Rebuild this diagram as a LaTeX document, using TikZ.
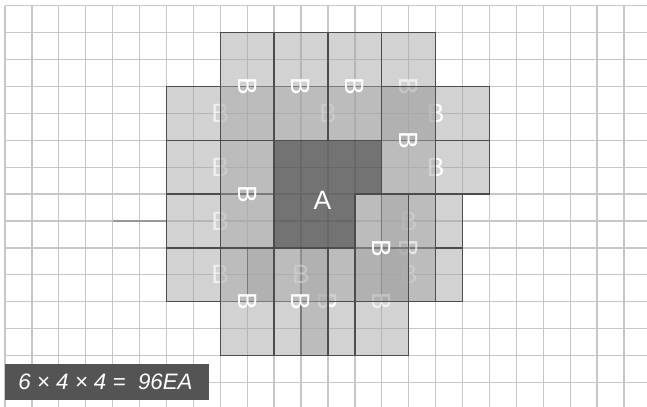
\documentclass[tikz,border=0pt]{standalone}
\usepackage{fontspec}
\setmainfont{Liberation Sans}

\begin{document}
\begin{tikzpicture}[x=0.5cm,y=-0.5cm,
  gridline/.style={black!22,line width=0.7pt},
  piece/.style={fill=black!35,fill opacity=0.5,draw=black!70,line width=0.7pt},
  blockA/.style={fill=black!67,fill opacity=0.82,draw=black!75,line width=0.7pt},
  labh/.style={text=white,inner sep=0pt,font=\fontsize{14}{14}\selectfont},
  labv/.style={labh,rotate=-90},
  faint/.style={text opacity=0.65}]
\path[use as bounding box] (-0.186,-0.212) rectangle (23.855,14.91);
% squared paper
\foreach \c in {0,...,23} \draw[gridline] (\c,0) -- (\c,14.91);
\foreach \r in {0,...,14} \draw[gridline] (0,\r) -- (23.855,\r);
\draw[black!40,line width=0.7pt] (4,8) -- (6,8);
% block A
\draw[blockA] (10,5) -- (14,5) -- (14,7) -- (13,7) -- (13,9) -- (10,9) -- cycle;
\node[labh] (a) at (11.8,7.23) {A};
% B blocks, lying
\draw[piece] (6,3) rectangle (10,5);   \node[labh,faint] (h1) at (8,4) {B};
\draw[piece] (6,5) rectangle (10,7);   \node[labh,faint] (h2) at (8,6) {B};
\draw[piece] (6,7) rectangle (10,9);   \node[labh,faint] (h3) at (8,8) {B};
\draw[piece] (6,9) rectangle (10,11);  \node[labh,faint] (h4) at (8,10) {B};
\draw[piece] (10,3) rectangle (14,5);  \node[labh,faint] (h5) at (12,4) {B};
\draw[piece] (14,3) rectangle (18,5);  \node[labh] (h6) at (16,4) {B};
\draw[piece] (14,5) rectangle (18,7);  \node[labh] (h7) at (16,6) {B};
% B blocks underneath on the right
\draw[piece] (14,1) rectangle (16,5);  \node[labv,faint] (v4) at (15,3) {B};
\draw[piece] (13,7) rectangle (17,9);  \node[labh,faint] (h8) at (15,8) {B};
\draw[piece] (13,9) rectangle (17,11); \node[labh,faint] (h9) at (15,10) {B};
\draw[piece] (14,7) rectangle (16,11); \node[labv,faint] (v8) at (15,9) {B};
\draw[piece] (13,9) rectangle (15,13); \node[labv,faint] (v12) at (14,11) {B};
\draw[piece] (11,9) rectangle (13,13); \node[labv] (v11) at (12,11) {B};
\draw[piece] (9,9) rectangle (13,11);  \node[labh,faint] (h10) at (11,10) {B};
% B blocks, standing
\draw[piece] (8,1) rectangle (10,5);   \node[labv] (v1) at (9,3) {B};
\draw[piece] (10,1) rectangle (12,5);  \node[labv] (v2) at (11,3) {B};
\draw[piece] (12,1) rectangle (14,5);  \node[labv] (v3) at (13,3) {B};
\draw[piece] (14,3) rectangle (16,7);  \node[labv] (v5) at (15,5) {B};
\draw[piece] (8,5) rectangle (10,9);   \node[labv] (v6) at (9,7) {B};
\draw[piece] (8,9) rectangle (10,13);  \node[labv] (v9) at (9,11) {B};
\draw[piece] (10,9) rectangle (12,13); \node[labv] (v10) at (11,11) {B};
\draw[piece] (13,7) rectangle (15,11); \node[labv] (v7) at (14,9) {B};
% count
\fill[black!67] (0,13.31) rectangle (7.58,14.65);
\node[anchor=west,text=white,inner sep=0pt,font=\fontsize{11.8}{12}\selectfont\itshape] (total) at (0.48,13.98) {6 × 4 × 4 =~ 96EA};
\end{tikzpicture}
\end{document}
